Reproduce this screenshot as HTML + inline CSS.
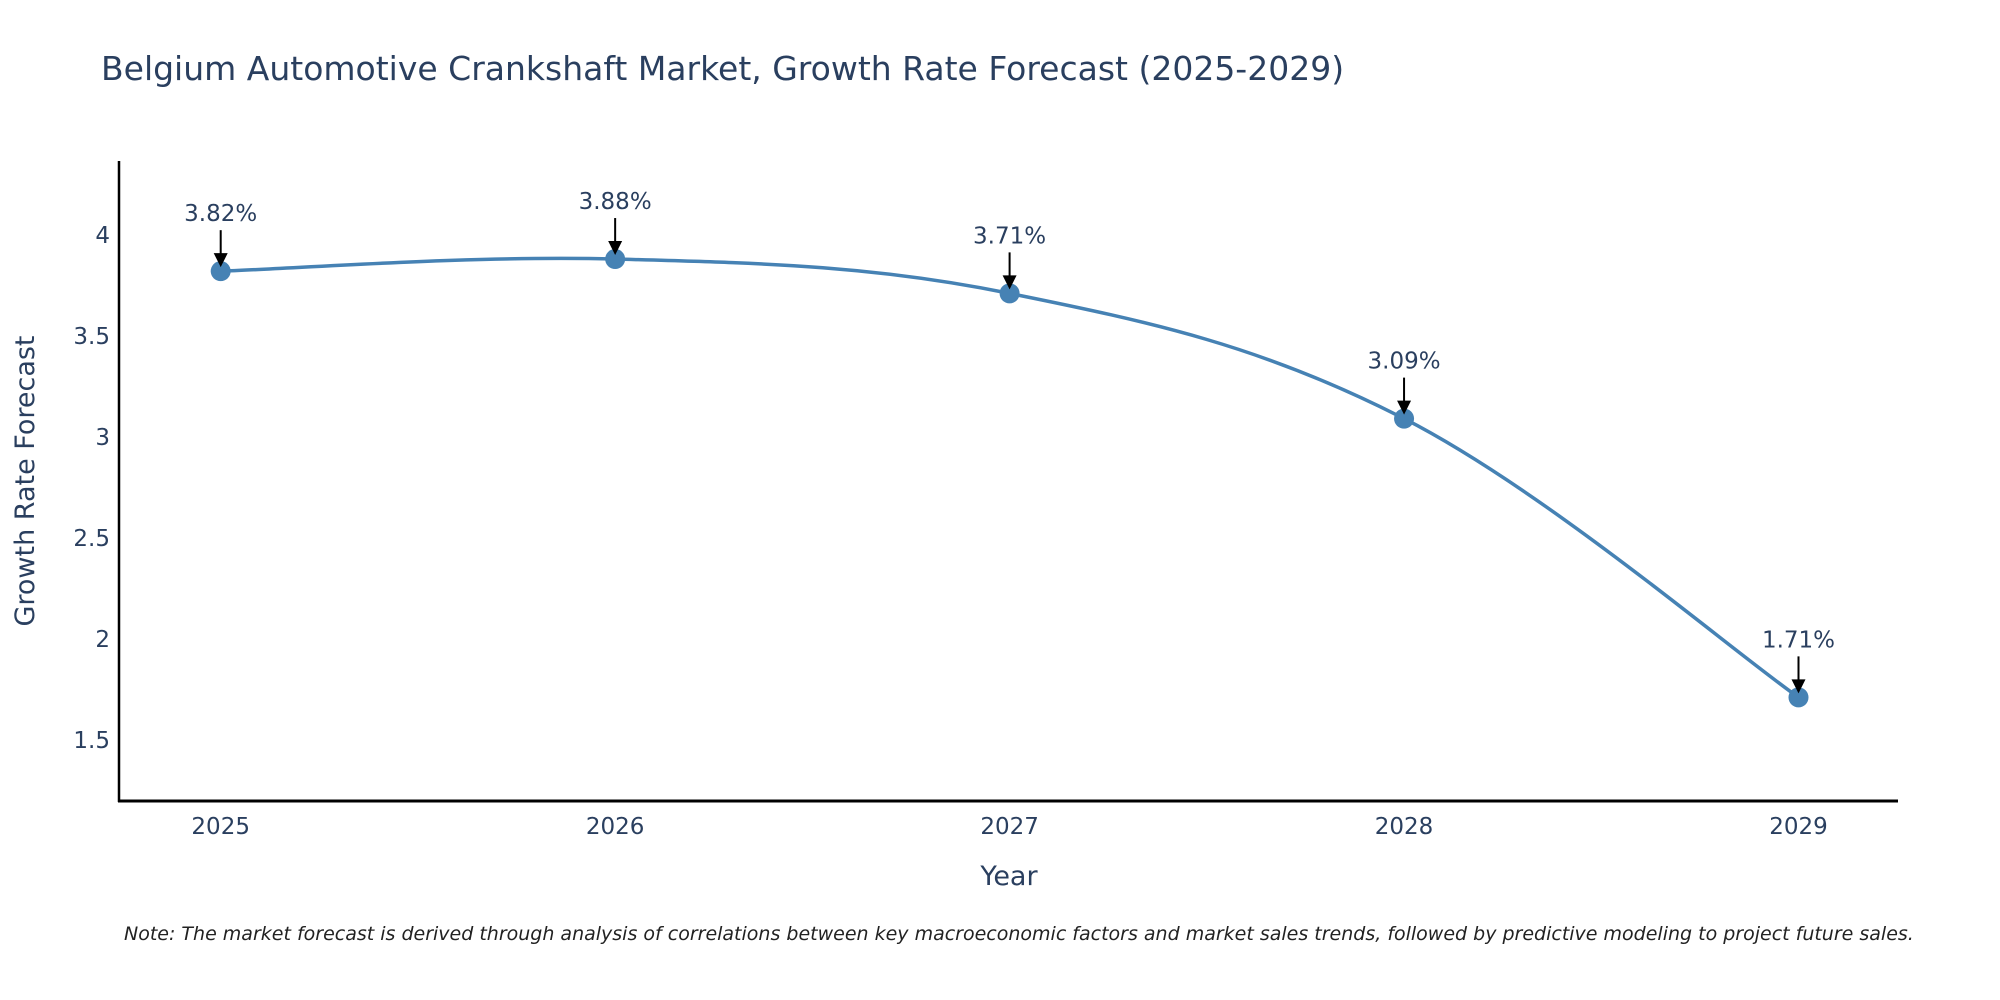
<!DOCTYPE html>
<html><head><meta charset="utf-8"><style>
body{margin:0;background:#fff;}
svg{display:block;font-family:"DejaVu Sans","Liberation Sans",sans-serif;}
</style></head><body>
<svg id="chart" width="2000" height="1000" viewBox="0 0 2000 1000">
<text x="101" y="80" font-size="33" fill="#2a3f5f">Belgium Automotive Crankshaft Market, Growth Rate Forecast (2025-2029)</text>
<g id="yticks"></g><g id="xticks"></g>
<line x1="119" y1="161" x2="119" y2="802" stroke="#000" stroke-width="2.5"/>
<line x1="118" y1="801" x2="1898" y2="801" stroke="#000" stroke-width="3"/>
<path id="line" fill="none" stroke="#4682b4" stroke-width="3.5"/>
<g id="marks"></g>
<text x="1009" y="885" font-size="27" fill="#2a3f5f" text-anchor="middle">Year</text>
<text transform="translate(34,481) rotate(-90)" font-size="27" fill="#2a3f5f" text-anchor="middle">Growth Rate Forecast</text>
<text x="124" y="940" font-size="19" font-style="italic" fill="#222">Note: The market forecast is derived through analysis of correlations between key macroeconomic factors and market sales trends, followed by predictive modeling to project future sales.</text>
</svg>
<script>
const years = [2025, 2026, 2027, 2028, 2029];
const values = [3.82, 3.88, 3.71, 3.09, 1.71];
const labels = ["3.82%", "3.88%", "3.71%", "3.09%", "1.71%"];
const yTickVals = [1.5, 2, 2.5, 3, 3.5, 4];
const yTickLabels = ["1.5", "2", "2.5", "3", "3.5", "4"];
const NS = "http://www.w3.org/2000/svg";
const xs = y => 220.7 + (y - 2025) * 394.45;
const ys = v => 739.8 - (v - 1.5) * 202;
function mk(tag, attrs, parent, txt){const e=document.createElementNS(NS,tag);for(const k in attrs)e.setAttribute(k,attrs[k]);if(txt!=null)e.textContent=txt;parent.appendChild(e);return e;}
const yt=document.getElementById('yticks');
yTickVals.forEach((v,i)=>{
  const t=mk('text',{x:110,y:ys(v)+8,'font-size':23,fill:'#2a3f5f','text-anchor':'end'},yt,yTickLabels[i]);
  
  
});
const xt=document.getElementById('xticks');
years.forEach(y=>{
  const t=mk('text',{x:xs(y),y:834,'font-size':23,fill:'#2a3f5f','text-anchor':'middle'},xt,String(y));
  
  
});
const P=years.map((y,i)=>[xs(y),ys(values[i])]);
let d=`M${P[0][0]},${P[0][1]}`;const s=0.18;
for(let i=0;i<P.length-1;i++){
  const p0=P[Math.max(0,i-1)],p1=P[i],p2=P[i+1],p3=P[Math.min(P.length-1,i+2)];
  const c1=[p1[0]+(p2[0]-p0[0])*s,p1[1]+(p2[1]-p0[1])*s];
  const c2=[p2[0]-(p3[0]-p1[0])*s,p2[1]-(p3[1]-p1[1])*s];
  d+=` C${c1[0]},${c1[1]} ${c2[0]},${c2[1]} ${p2[0]},${p2[1]}`;
}
document.getElementById('line').setAttribute('d',d);
const g=document.getElementById('marks');
P.forEach((p,i)=>{
  const c=mk('circle',{cx:p[0],cy:p[1],r:10,fill:'#4682b4'},g);
  
  
  const a=mk('line',{x1:p[0],y1:p[1]-41,x2:p[0],y2:p[1]-14,stroke:'#000','stroke-width':2},g);
  
  
  const h=mk('polygon',{points:`${p[0]-7},${p[1]-18} ${p[0]+7},${p[1]-18} ${p[0]},${p[1]-4}`,fill:'#000'},g);
  
  
  const t=mk('text',{x:p[0],y:p[1]-50,'font-size':23,fill:'#2a3f5f','text-anchor':'middle'},g,labels[i]);
  
  
});
</script>
</body></html>
